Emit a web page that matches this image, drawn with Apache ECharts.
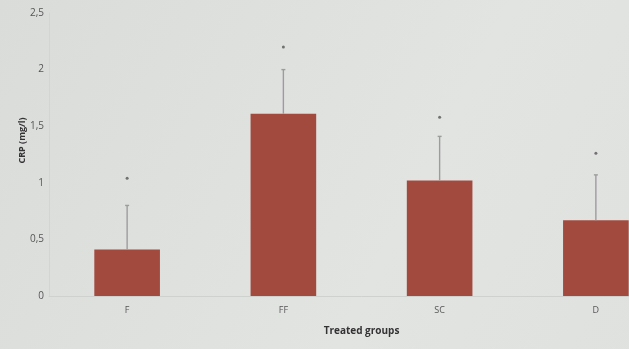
<!DOCTYPE html>
<html>
<head>
<meta charset="utf-8">
<script src="https://cdn.jsdelivr.net/npm/echarts@6/dist/echarts.min.js"></script>
<style>
  html, body { margin: 0; padding: 0; background: #dfe1df; overflow: hidden; width: 629px; height: 349px; }
  /* the canvas is wider than the page so the last group is cut off at the right edge */
  #chart { width: 680px; height: 349px; }
</style>
</head>
<body>
<div id="chart"></div>
<script>
// CRP by treatment group: means, error bar tops and significance markers
const groups = ['F', 'FF', 'SC', 'D'];
const crpMean = [0.41, 1.61, 1.02, 0.67];
const crpErrTop = [0.80, 2.00, 1.41, 1.07];
const signifLevel = [1.04, 2.20, 1.58, 1.26];
const yTicks = [0, 0.5, 1, 1.5, 2, 2.5];

const chart = echarts.init(document.getElementById('chart'), null, { renderer: 'canvas' });

const fmt = v => String(v).replace('.', ',');

chart.setOption({
  backgroundColor: new echarts.graphic.LinearGradient(0, 0, 1, 1, [
    { offset: 0, color: '#dadcda' },
    { offset: 0.6, color: '#e2e4e2' },
    { offset: 1, color: '#dfe1df' }
  ]),
  animation: false,
  grid: { left: 49, top: 13, width: 625, height: 283 },
  xAxis: {
    type: 'category',
    data: groups,
    name: 'Treated groups',
    nameLocation: 'middle',
    nameGap: 30,
    nameTextStyle: { fontFamily: 'Open Sans', fontWeight: 'bold', fontSize: 10, color: '#333' },
    axisLine: { lineStyle: { color: '#cfd1cf', width: 1 } },
    axisTick: { show: false },
    axisLabel: { fontFamily: 'Open Sans', fontSize: 9, color: '#555', margin: 10 }
  },
  yAxis: {
    type: 'value',
    min: 0,
    max: 2.5,
    interval: 0.5,
    name: 'CRP (mg/l)',
    nameLocation: 'middle',
    nameGap: 22,
    nameMoveOverlap: false,
    nameTextStyle: { fontFamily: 'Open Sans', fontWeight: 'bold', fontSize: 9, color: '#333', padding: [0, 0, 0, 28] },
    axisLine: { show: true, lineStyle: { color: '#d3d5d3', width: 1 } },
    axisTick: { show: false },
    splitLine: { show: false },
    axisLabel: {
      fontFamily: 'Open Sans', fontSize: 10, color: '#555', margin: 5,
      formatter: v => yTicks.includes(v) ? fmt(v) : ''
    }
  },
  series: [
    {
      type: 'bar',
      data: crpMean,
      barWidth: '42%',
      itemStyle: { color: '#a34a3f' },
      z: 2
    },
    {
      type: 'custom',
      z: 3,
      renderItem: (params, api) => {
        const i = api.value(0);
        const lo = api.coord([i, api.value(1)]);
        const hi = api.coord([i, api.value(2)]);
        const style = { stroke: '#9c9c9c', lineWidth: 1.4 };
        return {
          type: 'group',
          children: [
            { type: 'line', shape: { x1: lo[0], y1: lo[1], x2: hi[0], y2: hi[1] }, style },
            { type: 'line', shape: { x1: hi[0] - 2, y1: hi[1], x2: hi[0] + 2, y2: hi[1] }, style }
          ]
        };
      },
      data: groups.map((g, i) => [i, crpMean[i], crpErrTop[i]])
    },
    {
      type: 'scatter',
      symbol: 'circle',
      symbolSize: 3,
      itemStyle: { color: '#555' },
      data: groups.map((g, i) => [i, signifLevel[i]]),
      z: 4
    }
  ]
});
</script>
</body>
</html>
